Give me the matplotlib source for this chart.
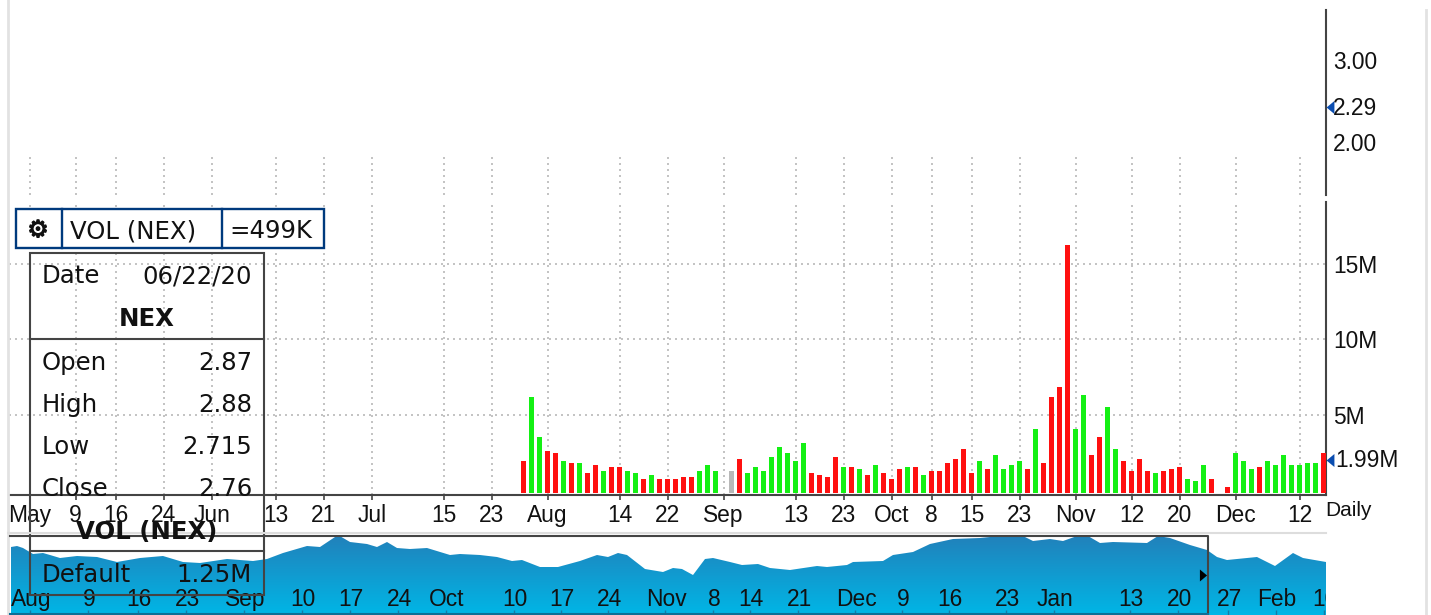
import numpy as np
import matplotlib
matplotlib.use('Agg')
import matplotlib.pyplot as plt
import matplotlib.patheffects as pe
from matplotlib.colors import LinearSegmentedColormap
from matplotlib.patches import Rectangle
from matplotlib.transforms import blended_transform_factory

W, H = 1431, 615

# daily volume in millions, nan = no bar that day
volume = [1.98, 6.21, 3.57, 2.64, 2.50, 1.98, 1.84, 1.84, 1.18, 1.71,
          1.31, 1.58, 1.58, 1.31, 1.18, 0.78, 1.05, 0.78, 0.78, 0.78,
          0.92, 0.92, 1.31, 1.71, 1.31, np.nan, 1.31, 2.11, 1.18, 1.58,
          1.31, 2.24, 2.90, 2.50, 1.98, 3.17, 1.18, 1.05, 0.92, 2.24,
          1.58, 1.58, 1.45, 1.05, 1.71, 1.18, 0.78, 1.45, 1.58, 1.58,
          1.05, 1.31, 1.31, 1.84, 2.11, 2.77, 1.18, 1.98, 1.45, 2.37,
          1.45, 1.71, 1.98, 1.45, 4.10, 1.84, 6.21, 6.88, 16.26, 4.10,
          6.35, 2.37, 3.57, 5.55, 2.77, 1.98, 1.31, 2.11, 1.31, 1.18,
          1.31, 1.45, 1.58, 0.78, 0.65, 1.71, 0.78, np.nan, 0.25, 2.50,
          1.98, 1.45, 1.58, 1.98, 1.71, 2.37, 1.71, 1.71, 1.84, 1.84, 2.50]
side = ['r', 'g', 'g', 'r', 'r', 'g', 'r', 'g', 'r', 'r',
        'g', 'r', 'r', 'g', 'g', 'r', 'g', 'r', 'r', 'r',
        'r', 'r', 'g', 'g', 'g', 'n', 'y', 'r', 'g', 'g',
        'g', 'g', 'g', 'g', 'g', 'g', 'r', 'r', 'r', 'r',
        'g', 'r', 'g', 'r', 'g', 'r', 'r', 'r', 'g', 'r',
        'g', 'r', 'r', 'r', 'r', 'r', 'r', 'g', 'r', 'g',
        'g', 'g', 'g', 'r', 'g', 'r', 'r', 'r', 'r', 'g',
        'g', 'r', 'r', 'g', 'g', 'r', 'r', 'r', 'r', 'g',
        'r', 'r', 'r', 'g', 'g', 'g', 'r', 'n', 'r', 'g',
        'g', 'g', 'r', 'g', 'g', 'g', 'g', 'g', 'g', 'g', 'r']

date_pos = [-61.7, -56, -51, -45, -39, -31, -25, -19, -10, -4, 3, 12, 18, 25,
            34, 40, 46, 51, 56, 62, 69, 76, 82, 89, 97]
date_labels = ['May', '9', '16', '24', 'Jun', '13', '21', 'Jul', '15', '23',
               'Aug', '14', '22', 'Sep', '13', '23', 'Oct', '8', '15', '23',
               'Nov', '12', '20', 'Dec', '12']

vol_ticks = [5, 10, 15]
vol_tick_labels = ['5M', '10M', '15M']
last_volume = 1.99
price_ticks = [2, 3]
price_tick_labels = ['2.00', '3.00']

# overview strip, x is screen position and y the height of the area
over_x = [11, 17, 23, 33, 43, 50, 60, 77, 97, 117, 140, 163, 183, 200, 227, 253,
          267, 283, 307, 320, 338, 350, 367, 377, 387, 397, 410, 427, 450, 460,
          480, 497, 512, 522, 540, 558, 580, 597, 608, 618, 627, 645, 663, 673,
          682, 693, 705, 713, 730, 742, 758, 770, 790, 817, 827, 847, 853, 883,
          893, 913, 930, 953, 980, 1000, 1023, 1033, 1050, 1063, 1080, 1088,
          1100, 1113, 1147, 1158, 1170, 1190, 1207, 1217, 1227, 1257, 1275,
          1293, 1303, 1326]
over_y = [68, 69, 67, 61, 62, 60, 57, 59, 58, 53, 57, 59, 53, 52, 56, 54,
          56, 62, 69, 68, 80, 73, 71, 68, 73, 67, 66, 67, 60, 61,
          60, 58, 54, 55, 48, 48, 54, 60, 58, 62, 60, 46, 43, 47,
          46, 40, 56, 57, 53, 50, 51, 47, 45, 49, 48, 50, 53, 54,
          60, 63, 71, 76, 77, 79, 79, 74, 76, 74, 80, 79,
          72, 73, 72, 79, 77, 70, 65, 58, 55, 58, 49,
          62, 57, 53]
over_tick_x = [30, 88, 138, 186, 244, 302, 350, 398, 446, 514, 561, 608, 665, 713,
               750, 798, 855, 902, 949, 1006, 1054, 1130, 1178, 1228, 1276, 1324]
over_labels = ['Aug', '9', '16', '23', 'Sep', '10', '17', '24', 'Oct', '10', '17',
               '24', 'Nov', '8', '14', '21', 'Dec', '9', '16', '23', 'Jan', '13',
               '20', '27', 'Feb', '10']

popup_rows = [('Date', '06/22/20', 283), ('Open', '2.87', 370), ('High', '2.88', 412),
              ('Low', '2.715', 454), ('Close', '2.76', 496), ('Default', '1.25M', 582)]

plt.rcParams['font.family'] = ['Liberation Sans', 'DejaVu Sans']
DARK = '#444444'
GRID = '#c4c4c4'
BLUE = '#003a7d'
ARROW = '#0a4db0'
INK = '#111111'
FS = 16.4
UI = 'DejaVu Sans'
UI_FS = 17.6
dots = (0, (1, 2))
left_tri = [(0.6, 1), (-0.6, 0), (0.6, -1)]
right_tri = [(-0.6, 1), (0.6, 0), (-0.6, -1)]


def pos(x0, y0, x1, y1):
    return [x0 / W, 1 - y1 / H, (x1 - x0) / W, (y1 - y0) / H]


fig = plt.figure(figsize=(W / 100, H / 100), dpi=100)

# price panel, empty apart from its scale
ax_price = fig.add_axes(pos(9, 10, 1326, 195))
ax_price.patch.set_alpha(0)
ax_price.set_xlim(-64.34, 100.3)
ax_price.set_ylim(1.354, 3.61)
for s in ['left', 'top', 'bottom']:
    ax_price.spines[s].set_visible(False)
ax_price.spines['right'].set_color(DARK)
ax_price.spines['right'].set_linewidth(1.5)
ax_price.vlines(date_pos, 1.354, 1.85, color=GRID, lw=1.44, linestyles=[dots])
ax_price.set_xticks([])
ax_price.yaxis.tick_right()
ax_price.set_yticks(price_ticks, price_tick_labels, fontsize=FS, color=INK)
ax_price.tick_params(axis='y', length=0, pad=5)

# volume panel
ax = fig.add_axes(pos(9, 202, 1326, 495))
ax.patch.set_alpha(0)
ax.set_xlim(-64.34, 100.3)
ax.set_ylim(-0.3, 19.1)
colors = {'r': '#ff1010', 'g': '#14f014', 'y': '#b8b8b8', 'n': 'none'}
idx = np.arange(len(volume))
base = -0.17
ax.bar(idx, np.array(volume) - base, bottom=base, width=0.66,
       color=[colors[c] for c in side], linewidth=0, zorder=3)
for s in ['left', 'top']:
    ax.spines[s].set_visible(False)
for s in ['right', 'bottom']:
    ax.spines[s].set_color(DARK)
    ax.spines[s].set_linewidth(1.5)
ax.set_xticks(date_pos, date_labels, fontsize=FS, color=INK)
ax.yaxis.tick_right()
ax.set_yticks(vol_ticks, vol_tick_labels, fontsize=FS, color=INK)
ax.tick_params(axis='y', length=0, pad=5)
ax.tick_params(axis='x', length=3.6, width=1.2, color=DARK, pad=3)
ax.grid(True, color=GRID, lw=1.44, linestyle=dots, zorder=0)
ax.set_axisbelow(True)
trans = blended_transform_factory(ax.transAxes, ax.transData)
ax.text(1.0072, last_volume, '1.99M', transform=trans, fontsize=FS, color=INK,
        va='center', ha='left')
ax.plot([1.0032], [last_volume], marker=left_tri, ms=9.4, color=ARROW, mew=0,
        transform=trans, clip_on=False, zorder=5)

# overview strip with the gradient area
ax_over = fig.add_axes(pos(10, 535, 1326, 615))
ax_over.axis('off')
poly = ax_over.fill_between(over_x, 0, over_y, facecolor='none', edgecolor='none')
cmap = LinearSegmentedColormap.from_list('over', ['#00b6e6', '#2280ba'])
im = ax_over.imshow(np.linspace(0, 1, 80)[:, None], extent=[10, 1326, 0, 80],
                    origin='lower', aspect='auto', cmap=cmap, zorder=1)
im.set_clip_path(poly.get_paths()[0], transform=ax_over.transData)
ax_over.set_xlim(10, 1326)
ax_over.set_ylim(0, 80)
ax_over.vlines(over_tick_x, 0, 5, color='#157aa5', lw=1, zorder=2)
for x, lab in zip(over_tick_x, over_labels):
    ax_over.text(x + 1, 9, lab, fontsize=FS, color=INK, ha='center', va='baseline',
                 clip_on=True, zorder=3)

# overlay in screen pixels for the frame, header box and popup
top = fig.add_axes([0, 0, 1, 1], zorder=10)
top.set_xlim(0, W)
top.set_ylim(H, 0)
top.axis('off')
top.plot([8, 8], [0, H], color='#e2e2e2', lw=2)
top.plot([1426, 1426], [10, H], color='#e2e2e2', lw=2)
top.plot([8, 1326], [533, 533], color='#dddddd', lw=1.5)
top.plot([10, 1208, 1208], [535.5, 535.5, 615], color=DARK, lw=1.5)
top.plot([10, 1208], [614, 614], color='#0d6f96', lw=1.5)
top.plot([1202.5], [575], marker=right_tri, ms=8.6, mew=0, color='black')
top.plot([1330], [107], marker=left_tri, ms=9.4, mew=0, color=ARROW)
top.text(1333, 115, '2.29', fontsize=FS, color=INK, va='baseline', ha='left')
top.text(1325, 516, 'Daily', fontsize=15, color=INK, va='baseline', ha='left')

# header box
top.add_patch(Rectangle((16, 209), 308, 39, fc='white', ec=BLUE, lw=1.7))
top.plot([62, 62], [209, 248], color=BLUE, lw=1.7)
top.plot([222, 222], [209, 248], color=BLUE, lw=1.7)
gear = top.text(38, 230, '\u2699', fontsize=17, family=UI, ha='center', va='center', color=INK)
gear.set_path_effects([pe.withStroke(linewidth=0.9, foreground=INK)])
top.text(70, 238, 'VOL (NEX)', fontsize=UI_FS, family=UI, va='baseline', ha='left', color=INK)
top.text(229, 238, '=499K', fontsize=UI_FS, family=UI, va='baseline', ha='left', color=INK)

# popup, see-through like the original
top.add_patch(Rectangle((30, 253), 234, 342, fc='none', ec=DARK, lw=1.5))
top.plot([30, 264], [339, 339], color=DARK, lw=1.5)
top.plot([30, 264], [551, 551], color=DARK, lw=1.5)
for name, val, y in popup_rows:
    top.text(42, y, name, fontsize=UI_FS, family=UI, va='baseline', ha='left', color=INK)
    top.text(252, y, val, fontsize=UI_FS, family=UI, va='baseline', ha='right', color=INK)
top.text(147, 326, 'NEX', fontsize=UI_FS, family=UI, weight='bold', va='baseline', ha='center',
         color=INK)
top.text(147, 539, 'VOL (NEX)', fontsize=UI_FS, family=UI, weight='bold', va='baseline', ha='center',
         color=INK)

fig.savefig('out.png', dpi=100)
